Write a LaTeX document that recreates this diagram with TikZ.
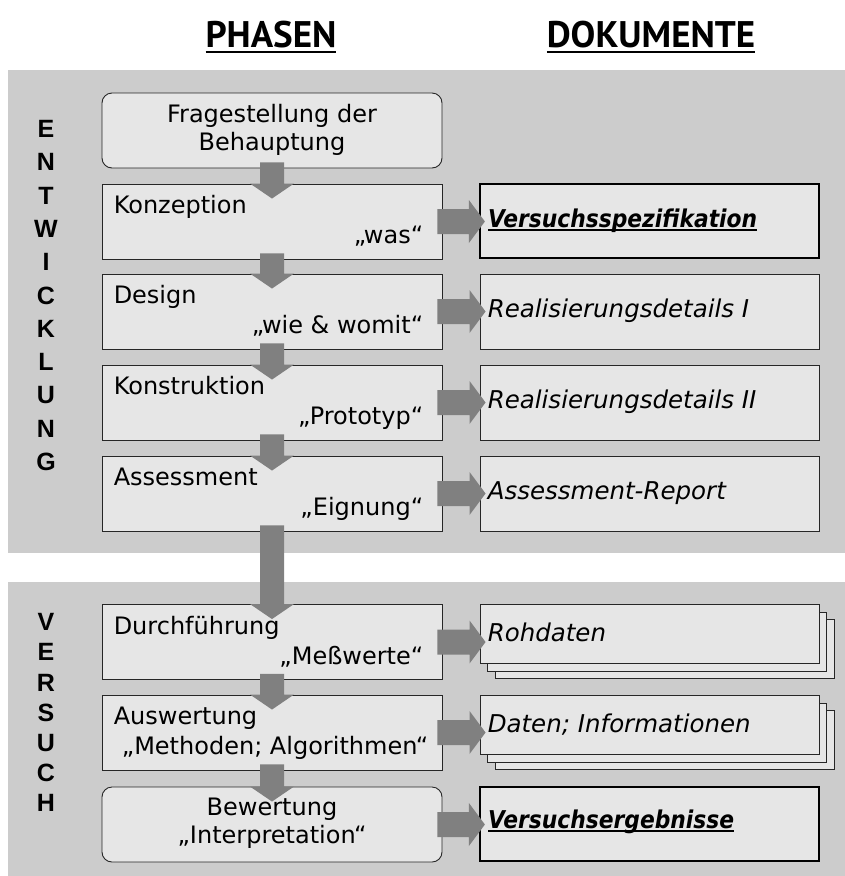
\documentclass[tikz,border=0pt]{standalone}
\usepackage{fontspec}
\setmainfont{DejaVu Sans}
\newfontfamily\titlefont{PT Sans}
\newfontfamily\letterfont{Liberation Sans}
\usetikzlibrary{calc}
\definecolor{panelgray}{HTML}{CCCCCC}
\definecolor{boxfill}{HTML}{E6E6E6}
\definecolor{arrowgray}{HTML}{808080}
\newcommand\ultext[3]{\setbox0=\hbox{#3}\rlap{\copy0}\rule[-#1]{\wd0}{#2}}
\newcommand\blockD[2]{%
  \fill[arrowgray] ($(#1.south)+(-12,-6)$) -- ($(#1.south)+(12,-6)$) -- ($(#2.north)+(12,0)$) -- ($(#2.north)+(22,0)$) -- ($(#2.north)+(0,15)$) -- ($(#2.north)+(-22,0)$) -- ($(#2.north)+(-12,0)$) -- cycle;}
\newcommand\blockR[2]{%
  \fill[arrowgray] ($(#1.east)+(-5,-12.5)$) -- ($(#1.east -| #2.west)+(-10,-12.5)$) -- ($(#1.east -| #2.west)+(-10,-21.5)$) -- ($(#1.east -| #2.west)+(6,0)$) -- ($(#1.east -| #2.west)+(-10,21.5)$) -- ($(#1.east -| #2.west)+(-10,12.5)$) -- ($(#1.east)+(-5,12.5)$) -- cycle;}
\tikzset{
  phasebox/.style={draw=black!85, line width=0.9pt, fill=boxfill, minimum width=340pt, minimum height=75pt, inner sep=0pt},
  roundbox/.style={phasebox, rounded corners=10pt},
  docbox/.style={draw=black!85, line width=0.9pt, fill=boxfill, minimum width=339pt, minimum height=75pt, inner sep=0pt},
  thickdoc/.style={docbox, draw=black, line width=2.2pt},
  stackbox/.style={docbox, minimum height=59pt},
  txt/.style={inner sep=0pt, font=\fontsize{24}{29}\selectfont},
  doctxt/.style={txt, anchor=base west, font=\fontsize{24.5}{29}\selectfont\itshape},
  sideletter/.style={inner sep=0pt, font=\letterfont\bfseries\fontsize{25}{25}\selectfont},
  title/.style={inner sep=0pt, anchor=base, font=\titlefont\bfseries\fontsize{37}{40}\selectfont}
}
\begin{document}
\begin{tikzpicture}[x=1pt, y=-1pt]
\useasboundingbox (0,0) rectangle (845,876);
\fill[white] (0,0) rectangle (845,876);
% panels
\fill[panelgray] (8,70) rectangle (845,553);
\fill[panelgray] (8,582) rectangle (845,876);
% titles
\node[title] (tph) at (271,47) {\ultext{6pt}{2.2pt}{PHASEN}};
\node[title] (tdo) at (651,47) {\ultext{6pt}{2.2pt}{DOKUMENTE}};
% side letters
\foreach \l [count=\i from 0] in {E,N,T,W,I,C,K,L,U,N,G}
  \node[sideletter] (e\i) at (46,{129+33.3*\i}) {\l};
\foreach \l [count=\i from 0] in {V,E,R,S,U,C,H}
  \node[sideletter] (v\i) at (46,{622+30.2*\i}) {\l};
% phase boxes
\node[roundbox] (frage) at (272,130.5) {};
\node[phasebox] (konz) at (272,221.5) {};
\node[phasebox] (design) at (272,311.5) {};
\node[phasebox] (konstr) at (272,402.5) {};
\node[phasebox] (assess) at (272,493.5) {};
\node[phasebox] (durch) at (272,642) {};
\node[phasebox] (ausw) at (272,732.5) {};
\node[roundbox] (bewert) at (272,824.5) {};
% phase texts
\node[txt, anchor=base] (frageA) at ($(frage.north)+(0,30)$) {Fragestellung der};
\node[txt, anchor=base] (frageB) at ($(frage.north)+(0,58)$) {Behauptung};
\node[txt, anchor=base west] (konzA) at ($(konz.north west)+(12,30)$) {Konzeption};
\node[txt, anchor=base east] (konzB) at ($(konz.north east)+(-19,60)$) {„was“};
\node[txt, anchor=base west] (designA) at ($(design.north west)+(12,30)$) {Design};
\node[txt, anchor=base east] (designB) at ($(design.north east)+(-19,60)$) {„wie \& womit“};
\node[txt, anchor=base west] (konstrA) at ($(konstr.north west)+(12,30)$) {Konstruktion};
\node[txt, anchor=base east] (konstrB) at ($(konstr.north east)+(-19,60)$) {„Prototyp“};
\node[txt, anchor=base west] (assessA) at ($(assess.north west)+(12,30)$) {Assessment};
\node[txt, anchor=base east] (assessB) at ($(assess.north east)+(-19,60)$) {„Eignung“};
\node[txt, anchor=base west] (durchA) at ($(durch.north west)+(12,30)$) {Durchführung};
\node[txt, anchor=base east] (durchB) at ($(durch.north east)+(-19,60)$) {„Meßwerte“};
\node[txt, anchor=base west] (auswA) at ($(ausw.north west)+(12,30)$) {Auswertung};
\node[txt, anchor=base] (auswB) at ($(ausw.north)+(3,60)$) {„Methoden; Algorithmen“};
\node[txt, anchor=base] (bewertA) at ($(bewert.north)+(0,29)$) {Bewertung};
\node[txt, anchor=base] (bewertB) at ($(bewert.north)+(0,57)$) {„Interpretation“};
% document boxes
\node[thickdoc, minimum height=74pt] (spec) at (649.5,221) {};
\node[docbox] (real1) at (649.5,311.5) {};
\node[docbox] (real2) at (649.5,402.5) {};
\node[docbox] (assrep) at (649.5,493.5) {};
\node[stackbox] (roh3) at (664.5,649) {};
\node[stackbox] (roh2) at (657,641.5) {};
\node[stackbox] (roh) at (649.5,634) {};
\node[stackbox] (daten3) at (664.5,740) {};
\node[stackbox] (daten2) at (657,732.5) {};
\node[stackbox] (daten) at (649.5,725) {};
\node[thickdoc, minimum height=74pt] (ergeb) at (649.5,824) {};
% document texts
\node[doctxt] (specT) at ($(spec.west)+(9,6)$) {\bfseries\ultext{4pt}{2pt}{\scalebox{0.89}[1]{Versuchsspezifikation}}};
\node[doctxt] (real1T) at ($(real1.west)+(8,6)$) {Realisierungsdetails I};
\node[doctxt] (real2T) at ($(real2.west)+(8,6)$) {Realisierungsdetails II};
\node[doctxt] (assrepT) at ($(assrep.west)+(8,6)$) {Assessment-Report};
\node[doctxt] (rohT) at ($(roh.west)+(8,7)$) {Rohdaten};
\node[doctxt] (datenT) at ($(daten.west)+(8,7)$) {Daten; Informationen};
\node[doctxt] (ergebT) at ($(ergeb.west)+(9,4)$) {\bfseries\ultext{4pt}{2pt}{\scalebox{0.89}[1]{Versuchsergebnisse}}};
% down arrows
\blockD{frage}{konz}
\blockD{konz}{design}
\blockD{design}{konstr}
\blockD{konstr}{assess}
\blockD{assess}{durch}
\blockD{durch}{ausw}
\blockD{ausw}{bewert}
% right arrows
\blockR{konz}{spec}
\blockR{design}{real1}
\blockR{konstr}{real2}
\blockR{assess}{assrep}
\blockR{durch}{roh}
\blockR{ausw}{daten}
\blockR{bewert}{ergeb}
\end{tikzpicture}
\end{document}
